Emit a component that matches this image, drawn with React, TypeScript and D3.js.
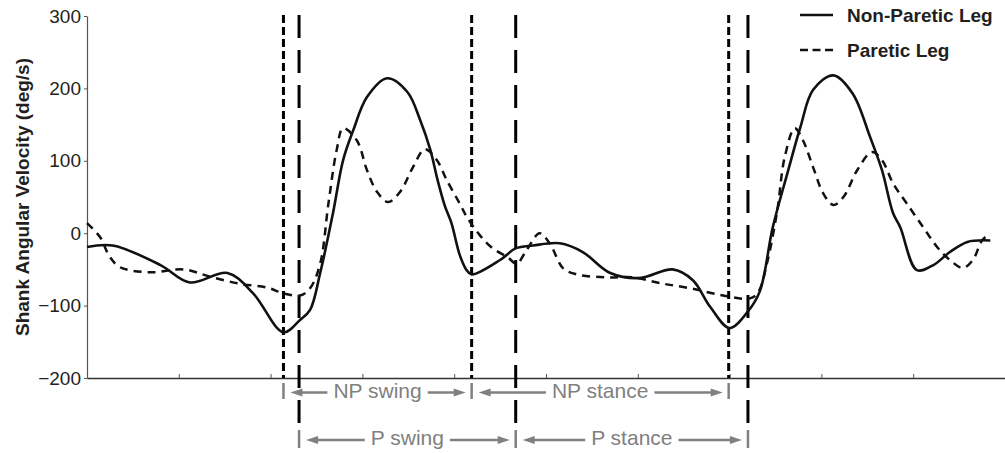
import { useRef, useEffect } from "react";
import * as d3 from "d3";

// position in the gait recording (0-100) and shank angular velocity (deg/s)
const npX = [0, 2.8, 8.0, 11.2, 15.3, 18.1, 21.4, 23.2, 24.3, 25.4, 26.8, 27.9, 29.0, 30.5, 32.7, 34.9, 36.3, 37.4, 38.2, 39.0, 39.7, 40.6, 41.3, 41.9, 45.0, 46.7, 48.6, 51.5, 54.0, 57.0, 60.2, 63.8, 66.0, 67.9, 70.0, 72.0, 73.3, 74.7, 76.3, 77.7, 79.1, 81.3, 83.4, 85.3, 86.6, 87.8, 88.6, 90.4, 92.2, 94.0, 95.9, 98.4];
const npY = [-19, -17, -44, -68, -55, -83, -137, -120, -106, -55, 28, 101, 142, 188, 214, 195, 156, 115, 73, 37, 14, -30, -50, -57, -37, -21, -17, -14, -26, -55, -62, -50, -65, -102, -131, -108, -80, 8, 83, 146, 198, 218, 193, 133, 87, 28, 8, -51, -44, -26, -12, -10];

const pX = [0, 1.4, 2.5, 3.6, 6.9, 10.5, 13.4, 16.7, 19.6, 21.4, 23.2, 24.3, 25.4, 26.3, 27.2, 27.9, 29.4, 30.5, 31.6, 32.8, 34.1, 35.5, 36.8, 38.1, 39.2, 40.6, 41.4, 42.8, 44.2, 45.8, 46.8, 47.9, 49.3, 50.4, 51.9, 53.4, 56.6, 59.5, 62.4, 65.7, 69.3, 72.2, 73.1, 74.1, 75.2, 76.0, 77.1, 78.0, 79.1, 80.2, 81.3, 82.4, 83.9, 85.5, 86.6, 87.8, 89.3, 91.1, 92.6, 94.0, 95.4, 96.5, 97.5, 98.4];
const pY = [14, -5, -33, -47, -54, -50, -60, -70, -75, -83, -86, -76, -42, 41, 115, 145, 128, 87, 57, 43, 57, 91, 116, 101, 73, 41, 22, -3, -21, -33, -42, -23, 0, -14, -49, -57, -61, -61, -69, -76, -86, -90, -82, -40, 32, 105, 145, 128, 91, 55, 39, 50, 87, 112, 101, 69, 41, 8, -19, -37, -48, -37, -10, 0];

// gait events: non-paretic (short dash) and paretic (long dash)
const npEvents = [21.4, 41.9, 69.9];
const pEvents = [23.1, 46.7, 72.0];

const yTicks = [-200, -100, 0, 100, 200, 300];
const xTicks = [10, 20, 30, 40, 50, 60, 70, 80, 90, 100];

const legendLabels = ["Non-Paretic Leg", "Paretic Leg"];
const phaseLabels = ["NP swing", "NP stance", "P swing", "P stance"];

const FONT = "'Liberation Sans', Arial, Helvetica, sans-serif";
const GRAY = "#808080";
const INK = "#231f20";

export default function App() {
  const ref = useRef<SVGSVGElement>(null);

  useEffect(() => {
    const svg = d3.select(ref.current);
    svg.selectAll("*").remove();

    const width = 1005;
    const height = 453;
    svg.attr("width", width).attr("height", height);

    const x = d3.scaleLinear().domain([0, 100]).range([87, 1005]);
    const y = d3.scaleLinear().domain([-200, 300]).range([378, 16]);

    // axes
    const yAxis = svg
      .append("g")
      .attr("transform", "translate(87,0)")
      .call(d3.axisLeft(y).tickValues(yTicks).tickSizeInner(3).tickSizeOuter(0).tickPadding(3));
    yAxis.select(".domain").attr("stroke", "#555").attr("stroke-width", 1.2);
    yAxis.selectAll(".tick line").attr("stroke", "#555");
    yAxis
      .selectAll("text")
      .style("font-family", FONT)
      .style("font-size", "19px")
      .attr("fill", INK);

    const xAxis = svg
      .append("g")
      .attr("transform", "translate(0,378)")
      .call(d3.axisBottom(x).tickValues(xTicks).tickSizeInner(-4).tickSizeOuter(0).tickFormat(() => ""));
    xAxis.select(".domain").attr("stroke", "#333").attr("stroke-width", 1.4);
    xAxis.selectAll(".tick line").attr("stroke", "#555");

    // y label
    svg
      .append("text")
      .attr("transform", `translate(29,${(16 + 378) / 2}) rotate(-90)`)
      .attr("text-anchor", "middle")
      .style("font-family", FONT)
      .style("font-size", "19px")
      .style("font-weight", "bold")
      .attr("fill", INK)
      .text("Shank Angular Velocity (deg/s)");

    // event lines
    svg
      .selectAll(".npEvent")
      .data(npEvents)
      .enter()
      .append("line")
      .attr("x1", (d) => x(d))
      .attr("x2", (d) => x(d))
      .attr("y1", 15)
      .attr("y2", 378)
      .attr("stroke", "#000")
      .attr("stroke-width", 3)
      .attr("stroke-dasharray", "8 4");

    svg
      .selectAll(".pEvent")
      .data(pEvents)
      .enter()
      .append("line")
      .attr("x1", (d) => x(d))
      .attr("x2", (d) => x(d))
      .attr("y1", 15)
      .attr("y2", 428)
      .attr("stroke", "#000")
      .attr("stroke-width", 3)
      .attr("stroke-dasharray", "23 12");

    // gray bars below axis
    svg
      .selectAll(".npBar")
      .data(npEvents)
      .enter()
      .append("line")
      .attr("x1", (d) => x(d))
      .attr("x2", (d) => x(d))
      .attr("y1", 383)
      .attr("y2", 399)
      .attr("stroke", GRAY)
      .attr("stroke-width", 2.5);

    svg
      .selectAll(".pBar")
      .data(pEvents)
      .enter()
      .append("line")
      .attr("x1", (d) => x(d))
      .attr("x2", (d) => x(d))
      .attr("y1", 430)
      .attr("y2", 448)
      .attr("stroke", GRAY)
      .attr("stroke-width", 2.5);

    // curves
    const npLine = d3
      .line<number>()
      .x((d) => x(d))
      .y((d, i) => y(npY[i]))
      .curve(d3.curveCatmullRom.alpha(0.5));
    const pLine = d3
      .line<number>()
      .x((d) => x(d))
      .y((d, i) => y(pY[i]))
      .curve(d3.curveCatmullRom.alpha(0.5));

    svg
      .append("path")
      .attr("d", pLine(pX))
      .attr("fill", "none")
      .attr("stroke", "#111")
      .attr("stroke-width", 2.5)
      .attr("stroke-dasharray", "8 6");

    svg
      .append("path")
      .attr("d", npLine(npX))
      .attr("fill", "none")
      .attr("stroke", "#111")
      .attr("stroke-width", 2.6);

    // legend
    const legend = svg.append("g");
    legendLabels.forEach((label, i) => {
      const ly = i === 0 ? 15 : 50;
      legend
        .append("line")
        .attr("x1", 800)
        .attr("x2", 833)
        .attr("y1", ly)
        .attr("y2", ly)
        .attr("stroke", "#111")
        .attr("stroke-width", 2.5)
        .attr("stroke-dasharray", i === 0 ? null : "8 4.5");
      legend
        .append("text")
        .attr("x", 847)
        .attr("y", ly + 7)
        .style("font-family", FONT)
        .style("font-size", "19px")
        .style("font-weight", "bold")
        .attr("fill", INK)
        .text(label);
    });

    // phase annotations with double arrows
    const phases = [
      { label: phaseLabels[0], a: npEvents[0], b: npEvents[1], row: 0 },
      { label: phaseLabels[1], a: npEvents[1], b: npEvents[2], row: 0 },
      { label: phaseLabels[2], a: pEvents[0], b: pEvents[1], row: 1 },
      { label: phaseLabels[3], a: pEvents[1], b: pEvents[2], row: 1 },
    ];
    const rowY = [392.5, 440];
    const ann = svg.append("g");

    const arrow = (x1: number, x2: number, ay: number) => {
      // tip at x2
      const dir = x2 > x1 ? 1 : -1;
      const head = 12;
      ann
        .append("line")
        .attr("x1", x1)
        .attr("x2", x2 - dir * head * 0.8)
        .attr("y1", ay)
        .attr("y2", ay)
        .attr("stroke", GRAY)
        .attr("stroke-width", 2.5);
      ann
        .append("path")
        .attr("d", `M${x2},${ay} L${x2 - dir * head},${ay - 4} L${x2 - dir * head},${ay + 4} Z`)
        .attr("fill", GRAY);
    };

    phases.forEach((p) => {
      const x0 = x(p.a);
      const x1 = x(p.b);
      const mid = (x0 + x1) / 2;
      const ay = rowY[p.row];
      const t = ann
        .append("text")
        .attr("x", mid)
        .attr("y", ay + 5)
        .attr("text-anchor", "middle")
        .style("font-family", FONT)
        .style("font-size", "21px")
        .attr("fill", GRAY)
        .text(p.label);
      const tw = (t.node() as SVGTextElement).getComputedTextLength();
      arrow(mid - tw / 2 - 6, x0 + 7, ay);
      arrow(mid + tw / 2 + 6, x1 - 6, ay);
    });
  }, []);

  return (
    <svg
      ref={ref}
      style={{ position: "absolute", left: 0, top: 0, display: "block", background: "#fff" }}
    ></svg>
  );
}
